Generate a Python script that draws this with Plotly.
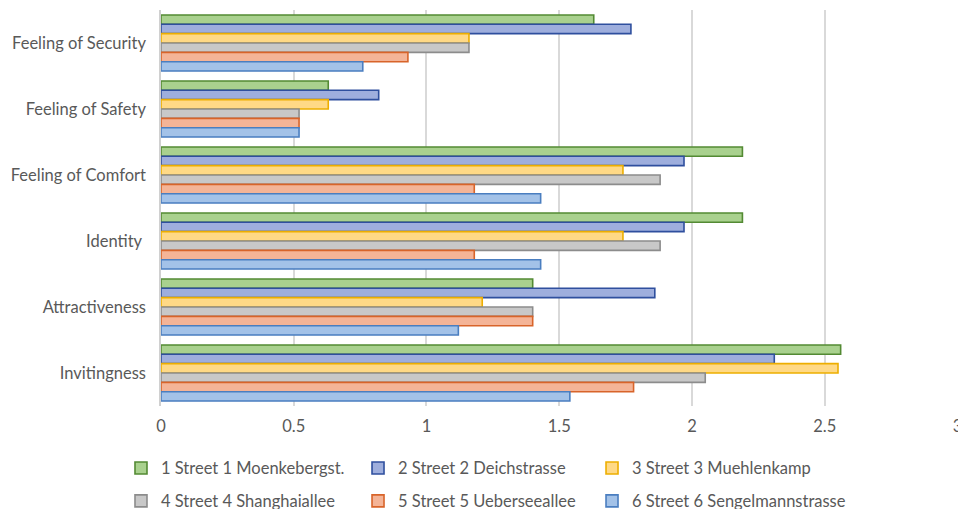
import plotly.graph_objects as go

# Perceived street qualities, mean scores per street
categories = ["Feeling of Security", "Feeling of Safety", "Feeling of Comfort",
              "Identity ", "Attractiveness", "Invitingness"]

street_names = ["1 Street 1 Moenkebergst.", "2 Street 2 Deichstrasse",
                "3 Street 3 Muehlenkamp", "4 Street 4 Shanghaiallee",
                "5 Street 5 Ueberseeallee", "6 Street 6 Sengelmannstrasse"]

street1 = [1.63, 0.63, 2.19, 2.19, 1.40, 2.56]
street2 = [1.77, 0.82, 1.97, 1.97, 1.86, 2.31]
street3 = [1.16, 0.63, 1.74, 1.74, 1.21, 2.55]
street4 = [1.16, 0.52, 1.88, 1.88, 1.40, 2.05]
street5 = [0.93, 0.52, 1.18, 1.18, 1.40, 1.78]
street6 = [0.76, 0.52, 1.43, 1.43, 1.12, 1.54]

x_ticks = [0, 0.5, 1, 1.5, 2, 2.5, 3]
x_tick_text = ["0", "0.5", "1", "1.5", "2", "2.5", "3"]

series_values = [street1, street2, street3, street4, street5, street6]
fills = ["#A9D18E", "#9EAEDD", "#FFD986", "#C8C8C8", "#F4B497", "#A3C2E8"]
borders = ["#538A33", "#2F4F9E", "#EDAE00", "#8C8C8C", "#D8642A", "#4A7EC0"]

label_font = dict(family="Lato, Carlito, Calibri, sans-serif", size=16.5, color="#595959")

# one single-entry legend per street, laid out in a 3 x 2 grid below the axis
legend_cols = [-0.0502, 0.2472, 0.5408]
legend_rows = [-0.113, -0.196]
legend_ids = ["legend", "legend2", "legend3", "legend4", "legend5", "legend6"]

fig = go.Figure()
legend_layout = {}
for i, (name, vals) in enumerate(zip(street_names, series_values)):
    fig.add_trace(go.Bar(
        y=categories, x=vals, name=name, orientation="h",
        marker=dict(color=fills[i], line=dict(color=borders[i], width=1.6)),
        legend=legend_ids[i], showlegend=True,
    ))
    legend_layout[legend_ids[i]] = dict(
        x=legend_cols[i % 3], y=legend_rows[i // 3], xanchor="left", yanchor="top",
        orientation="h", itemwidth=30, font=label_font, bgcolor="rgba(0,0,0,0)",
        visible=True)

fig.update_layout(
    width=958, height=509,
    showlegend=True,
    margin=dict(l=161, r=0, t=10, b=103, autoexpand=False),
    paper_bgcolor="white", plot_bgcolor="white",
    barmode="group", bargap=0.15, bargroupgap=0,
    font=label_font,
    xaxis=dict(range=[0, 3.002], tickvals=x_ticks, ticktext=x_tick_text,
               showgrid=True, gridcolor="#D9D9D9", gridwidth=1.5,
               zeroline=False, showline=False, ticks="", ticklabelstandoff=8,
               ticklabeloverflow="allow", tickfont=label_font),
    yaxis=dict(autorange="reversed", showgrid=False, showline=True,
               linecolor="#D0D0D0", linewidth=1.5, ticks="", ticklabelstandoff=10,
               tickfont=label_font),
    **legend_layout,
)

fig.write_html("out.html")
